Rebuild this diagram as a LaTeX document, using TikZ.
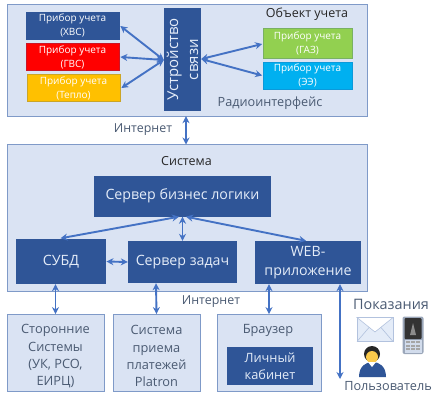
\documentclass[tikz,border=0pt]{standalone}
\usepackage{fontspec}
\setmainfont{Open Sans}
\usetikzlibrary{arrows.meta}
\definecolor{panel}{HTML}{DAE3F3}
\definecolor{edge}{HTML}{7F9AC8}
\definecolor{dark}{HTML}{2F5597}
\definecolor{arr}{HTML}{4472C4}
\definecolor{lab}{HTML}{4A5A72}
\definecolor{soft}{HTML}{E4ECF8}
\definecolor{mblue}{HTML}{2F5597}
\definecolor{mred}{HTML}{FF0000}
\definecolor{myel}{HTML}{FFC000}
\definecolor{mgrn}{HTML}{92D050}
\definecolor{mcya}{HTML}{00B0F0}
\tikzset{
  x=1pt,y=-1pt,
  panelbox/.style={draw=edge,line width=0.9pt,fill=panel,inner sep=0pt,align=center,text=lab},
  darkbox/.style={fill=dark,inner sep=0pt,align=center,text=soft},
  meter/.style={draw=#1!75!dark,line width=0.7pt,fill=#1,minimum width=93pt,minimum height=27pt,inner sep=0pt,align=center,text=white,font=\fontsize{10}{14}\selectfont},
  link/.style={draw=arr,line width=1.9pt,{Stealth[length=7pt,width=7pt]}-{Stealth[length=7pt,width=7pt]}},
  lbl/.style={inner sep=0pt,text=lab,font=\fontsize{12.4}{15}\selectfont},
  head/.style={inner sep=0pt,text=black!85,font=\fontsize{12.5}{15}\selectfont},
  bigtxt/.style={font=\fontsize{14.2}{19.5}\selectfont},
  midtxt/.style={font=\fontsize{12.8}{17.3}\selectfont}
}
\begin{document}
\begin{tikzpicture}
\useasboundingbox (0,0) rectangle (438,400);
% panels
\node[panelbox,minimum width=360pt,minimum height=112pt] (top) at (187,60) {};
\node[panelbox,minimum width=360pt,minimum height=146.5pt] (sys) at (187,217.75) {};
\node[head] (obj) at (307,14.5) {Объект учета};
\node[head] (systitle) at (186.5,161) {Система};
\node[lbl,font=\fontsize{12.7}{15}\selectfont] (radio) at (270,103) {Радиоинтерфейс};
\node[lbl] (net1) at (143,129.5) {Интернет};
\node[lbl] (net2) at (211,302) {Интернет};
% meters
\node[meter=mblue] (m1) at (72.5,25.5) {Прибор учета\\(ХВС)};
\node[meter=mred] (m2) at (72.5,57) {Прибор учета\\(ГВС)};
\node[meter=myel] (m3) at (73.5,88) {Прибор учета\\(Тепло)};
\node[meter=mgrn,minimum width=89pt,minimum height=30pt] (m4) at (307.5,43) {Прибор учета\\(ГАЗ)};
\node[meter=mcya,minimum width=89pt,minimum height=27pt] (m5) at (307.5,75.5) {Прибор учета\\(ЭЭ)};
\node[darkbox,rotate=90,minimum width=103pt,minimum height=37pt,font=\fontsize{15}{20}\selectfont] (dev) at (182.5,59.5) {Устройство\\связи};
% system
\node[darkbox,bigtxt,minimum width=177pt,minimum height=41pt] (biz) at (182.5,196) {Сервер бизнес логики};
\node[darkbox,bigtxt,minimum width=90.5pt,minimum height=45pt] (db) at (61,261.5) {СУБД};
\node[darkbox,bigtxt,minimum width=109pt,minimum height=42pt] (task) at (182.5,262) {Сервер задач};
\node[darkbox,bigtxt,minimum width=106pt,minimum height=43pt] (web) at (308,262.5) {WEB-\\приложение};
% bottom
\node[panelbox,midtxt,minimum width=97pt,minimum height=77pt] (ext) at (55.5,352.5) {\rule{0pt}{17pt}Сторонние\\Системы\\(УК, РСО,\\ЕИРЦ)};
\node[panelbox,midtxt,minimum width=87pt,minimum height=77pt] (pay) at (156.5,352.5) {\rule{0pt}{17pt}Система\\приема\\платежей\\Platron};
\node[panelbox,minimum width=104pt,minimum height=77pt] (br) at (269,352.5) {};
\node[lbl,font=\fontsize{12.8}{15}\selectfont] (brt) at (268,330) {Браузер};
\node[darkbox,midtxt,minimum width=86pt,minimum height=38pt] (lk) at (270,366) {Личный\\кабинет};
% right
\node[lbl,font=\fontsize{14.4}{17}\selectfont] (pok) at (391,304) {Показания};
\node[lbl,font=\fontsize{12.7}{15}\selectfont] (usr) at (388,386) {Пользователь};
\coordinate (uend) at (340,379);
% icons
\draw[edge!60,line width=0.6pt,fill=soft] (357,317.5) rectangle (393,341.5);
\draw[edge!60,line width=0.6pt,fill=white] (357,317.5) -- (375,332) -- (393,317.5) -- cycle;
\draw[edge!60,line width=0.6pt] (357,341.5) -- (369,327.5) (393,341.5) -- (381,327.5);
\fill[edge!70!black!60,rounded corners=2pt] (402.5,316.5) rectangle (423.5,354);
\fill[black!80,rounded corners=1pt] (404.5,318) rectangle (421.5,339);
\fill[black!45] (410,335) -- (413,323) -- (416,335) -- cycle;
\fill[edge!35] (404.5,340) rectangle (421.5,352.5);
\foreach \i in {0,1,2}{\foreach \j in {0,1,2}{\fill[black!35] (406+5*\i,341+3.7*\j) rectangle +(3.5,2);}}
\fill[dark] (359,377) .. controls (359,366) and (366,362) .. (372.5,362) .. controls (379,362) and (386,366) .. (386,377) -- cycle;
\fill[black!85] (372,354) circle (8pt);
\fill[yellow!45!orange!70] (372,357) ellipse (6pt and 6pt);
\fill[white] (368,362) -- (376,362) -- (372,367) -- cycle;
% connectors
\draw[link] ([yshift=-0.5pt]dev.north) -- ([xshift=1pt,yshift=-0.5pt]m1.east);
\draw[link] ([yshift=-0.5pt]dev.north) -- ([xshift=1pt]m2.east);
\draw[link] ([yshift=-0.5pt]dev.north) -- ([xshift=1pt]m3.east);
\draw[link] ([yshift=0.5pt]dev.south) -- ([xshift=-0.5pt,yshift=-1pt]m4.west);
\draw[link] ([yshift=0.5pt]dev.south) -- ([xshift=-0.5pt]m5.west);
\draw[link] ([xshift=3.5pt]dev.west) ++(0,5) -- (186,144.5);
\draw[link] ([xshift=-3.5pt]biz.south) -- ([xshift=-0.5pt,yshift=0.5pt]db.north);
\draw[link] (biz.south) -- (task.north);
\draw[link] ([xshift=3.5pt]biz.south) -- ([xshift=-2pt]web.north);
\draw[link] (db.east) -- (task.west);
\draw[link] ([xshift=-5.5pt]db.south) -- ([yshift=-0.5pt]ext.north);
\draw[link] ([xshift=-26.5pt]task.south) -- ([xshift=0pt,yshift=-0.5pt]pay.north);
\draw[link] ([xshift=-39pt]web.south) -- ([yshift=-0.5pt]br.north);
\draw[link] ([xshift=32pt]web.south) -- (uend);
\end{tikzpicture}
\end{document}
